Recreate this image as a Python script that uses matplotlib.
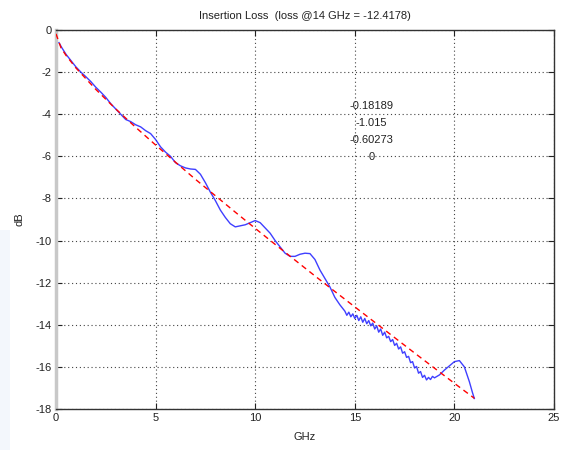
import matplotlib
matplotlib.use("Agg")
import matplotlib.pyplot as plt
from matplotlib.patches import Rectangle

plt.rcParams['font.family'] = ['Liberation Sans Narrow', 'Liberation Sans', 'DejaVu Sans']

title = "Insertion Loss  (loss @14 GHz = -12.4178)"
xlabel = "GHz"
ylabel = "dB"
coef_labels = ["-0.18189", "-1.015", "-0.60273", "0"]
coef_label_y = [-3.62, -4.42, -5.22, -6.05]
coef_label_x = 15.85

xticks = [0, 5, 10, 15, 20, 25]
yticks = [0, -2, -4, -6, -8, -10, -12, -14, -16, -18]

# measured insertion loss (blue)
meas_f = [0.15, 0.3, 0.5, 0.75, 1.0, 1.25, 1.5, 1.75, 2.0, 2.25, 2.5, 2.75, 3.0,
          3.25, 3.5, 3.75, 4.0, 4.25, 4.5, 4.75, 5.0, 5.25, 5.5, 5.75, 6.0, 6.25,
          6.5, 6.75, 7.0, 7.25, 7.5, 7.75, 8.0, 8.25, 8.5, 8.75, 9.0, 9.25, 9.5,
          9.75, 10.0, 10.25, 10.5, 10.75, 11.0, 11.25, 11.5, 11.75, 12.0, 12.25,
          12.5, 12.75, 13.0, 13.25, 13.5, 13.75, 14.0, 14.25,
          14.5, 14.6, 14.7, 14.8, 14.9, 15.0, 15.1, 15.2, 15.3, 15.4, 15.5, 15.6,
          15.7, 15.8, 15.9, 16.0, 16.1, 16.2, 16.3, 16.4, 16.5, 16.6, 16.7, 16.8,
          16.9, 17.0, 17.1, 17.2, 17.3, 17.4, 17.5, 17.6, 17.7, 17.8, 17.9, 18.0,
          18.1, 18.2, 18.3, 18.4, 18.5, 18.6, 18.7, 18.8, 18.9, 19.0,
          19.25, 19.5, 19.75, 20.0, 20.25, 20.5, 20.75, 20.9, 21.0]
meas_db = [-0.60, -0.85, -1.15, -1.45, -1.75, -2.00, -2.22, -2.45, -2.72, -2.95,
           -3.20, -3.50, -3.75, -4.00, -4.25, -4.35, -4.50, -4.60, -4.78, -4.92,
           -5.20, -5.55, -5.80, -6.00, -6.30, -6.45, -6.55, -6.60, -6.62, -6.85,
           -7.25, -7.70, -8.10, -8.55, -8.90, -9.20, -9.35, -9.30, -9.25, -9.15,
           -9.05, -9.15, -9.40, -9.65, -10.00, -10.30, -10.60, -10.75, -10.75,
           -10.65, -10.60, -10.62, -10.90, -11.40, -11.80, -12.20, -12.70, -13.05,
           -13.35, -13.55, -13.40, -13.62, -13.48, -13.70, -13.55, -13.80, -13.62,
           -13.88, -13.70, -13.95, -13.80, -14.05, -13.92, -14.20, -14.05, -14.35,
           -14.20, -14.50, -14.35, -14.62, -14.55, -14.80, -14.70, -14.98, -14.88,
           -15.15, -15.05, -15.35, -15.28, -15.55, -15.50, -15.80, -15.75, -16.05,
           -15.98, -16.30, -16.22, -16.50, -16.40, -16.62, -16.50, -16.60, -16.45,
           -16.52, -16.38, -16.15, -15.95, -15.75, -15.70, -16.00, -16.70, -17.20,
           -17.50]

# fitted curve (red dashed)
fit_f = [0, 0.25, 0.5, 1, 2, 3, 4, 5, 6, 7, 8, 9, 10, 11, 12, 13, 14, 15, 16,
         17, 18, 19, 20, 21]
fit_db = [-0.18, -0.84, -1.20, -1.80, -2.82, -3.75, -4.62, -5.46, -6.28, -7.09,
          -7.87, -8.65, -9.42, -10.18, -10.93, -11.68, -12.42, -13.15, -13.88,
          -14.61, -15.34, -16.06, -16.78, -17.49]

fig = plt.figure(figsize=(5.62, 4.5), dpi=100)
fig.patches.append(Rectangle((0, 0), 0.018, 0.49, transform=fig.transFigure,
                             facecolor='#f3f7fc', edgecolor='none', zorder=-5))
ax = fig.add_axes([0.0996, 0.0911, 0.8862, 0.8422])

ax.plot(meas_f, meas_db, color='#2a2aff', lw=1.0, alpha=0.9, zorder=3)
ax.plot(fit_f, fit_db, color='#ff0000', lw=1.0, ls=(0, (4, 3)), zorder=4)

ax.set_xlim(0, 25)
ax.set_ylim(-18, 0)
ax.set_xticks(xticks)
ax.set_yticks(yticks)
ax.set_xticklabels([str(t) for t in xticks])
ax.set_yticklabels([str(t) for t in yticks])
ax.grid(True, ls=(0, (1, 2.5)), color='#444444', lw=0.8)
ax.tick_params(direction='in', top=True, right=True, length=4, width=0.8,
               labelsize=8, pad=3, colors='#222222')
for s in ['top', 'bottom', 'right']:
    ax.spines[s].set_color('#333333')
    ax.spines[s].set_linewidth(1.0)
ax.spines['left'].set_color('#c8c8c8')
ax.spines['left'].set_linewidth(2.5)

ax.set_title(title, fontsize=8, pad=8, color='#222222')
ax.set_xlabel(xlabel, fontsize=8, labelpad=6, color='#222222')
ax.set_ylabel(ylabel, fontsize=8, labelpad=8, color='#222222')

for lab, yy in zip(coef_labels, coef_label_y):
    ax.text(coef_label_x, yy, lab, ha='center', va='center', fontsize=8,
            color='#222222')

fig.savefig('out.png', dpi=100)
